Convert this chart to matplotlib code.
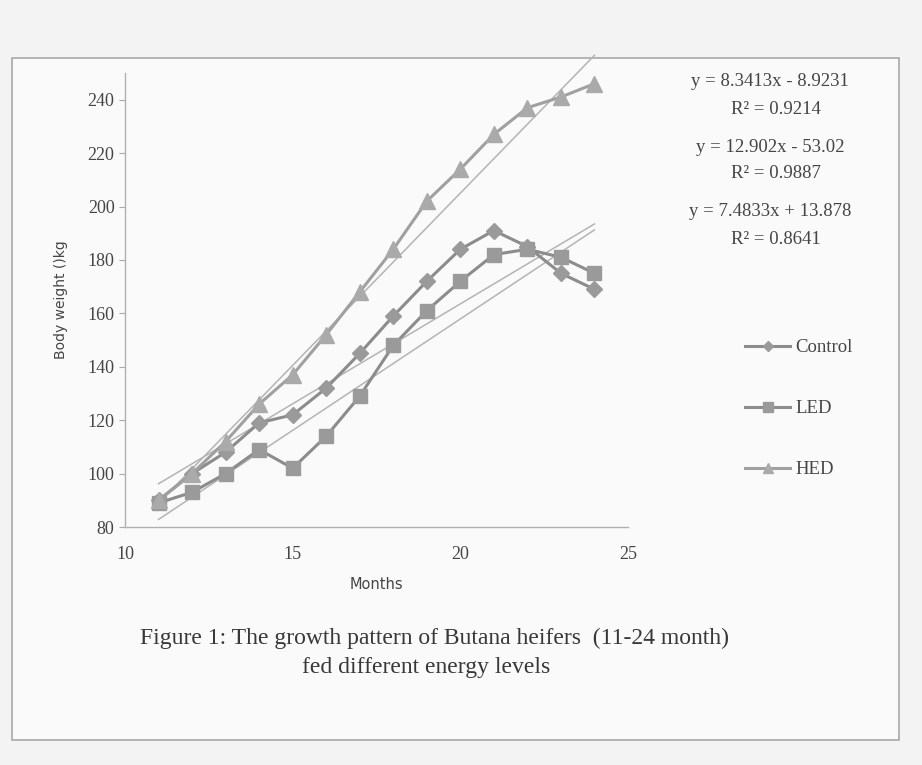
import matplotlib.pyplot as plt
from matplotlib.patches import Rectangle

# data (months 11-24, body weight kg)
months = [11, 12, 13, 14, 15, 16, 17, 18, 19, 20, 21, 22, 23, 24]
control = [90, 100, 108, 119, 122, 132, 145, 159, 172, 184, 191, 185, 175, 169]
led = [89, 93, 100, 109, 102, 114, 129, 148, 161, 172, 182, 184, 181, 175]
hed = [90, 100, 112, 126, 137, 152, 168, 184, 202, 214, 227, 237, 241, 246]

# linear trendlines printed on the chart (slope, intercept, R2)
trend_led = (8.3413, -8.9231, 0.9214)
trend_hed = (12.902, -53.02, 0.9887)
trend_control = (7.4833, 13.878, 0.8641)

x_ticks = [10, 15, 20, 25]
y_ticks = [80, 100, 120, 140, 160, 180, 200, 220, 240]

serif = "Liberation Serif"
txt = "#454545"
line_c = "#8c8c8c"
mark_c = "#9a9a9a"
trend_c = "#b4b4b4"

fig = plt.figure(figsize=(9.22, 7.65), dpi=100, facecolor="#f3f3f3")

# chart frame of the scanned page
fig.patches.append(Rectangle((12 / 922, 1 - 740 / 765), 887 / 922, 682 / 765,
                             transform=fig.transFigure, facecolor="#fafafa",
                             edgecolor="#a8a8a8", linewidth=1.2, zorder=-10))

ax = fig.add_axes([125 / 922, 1 - 527 / 765, 503 / 922, 454 / 765])
ax.set_facecolor("none")

# trendlines first so the series sit on top
for slope, icpt, _ in (trend_led, trend_hed, trend_control):
    ys = [slope * m + icpt for m in (months[0], months[-1])]
    ax.plot([months[0], months[-1]], ys, color=trend_c, lw=1.1, clip_on=False, zorder=1)

ax.plot(months, control, color=line_c, lw=2.2, marker="D", ms=8, mfc=mark_c, mec=mark_c,
        label="Control", zorder=3)
ax.plot(months, led, color=line_c, lw=2.2, marker="s", ms=10.5, mfc=mark_c, mec=mark_c,
        label="LED", zorder=3)
ax.plot(months, hed, color="#a0a0a0", lw=2.2, marker="^", ms=11, mfc="#aaaaaa", mec="#aaaaaa",
        label="HED", zorder=3)

ax.set_xlim(10, 25)
ax.set_ylim(80, 250)
ax.set_xticks(x_ticks)
ax.set_yticks(y_ticks)
ax.tick_params(axis="both", colors="#aaaaaa", labelcolor=txt, length=4, width=0.8)
ax.tick_params(axis="x", length=0, pad=14)
for lab in ax.get_xticklabels() + ax.get_yticklabels():
    lab.set_fontfamily(serif)
    lab.set_fontsize(13)
for s in ("top", "right"):
    ax.spines[s].set_visible(False)
for s in ("left", "bottom"):
    ax.spines[s].set_color("#b0b0b0")
    ax.spines[s].set_linewidth(1)

ax.set_xlabel("Months", fontsize=10.5, color=txt, labelpad=10)
ax.set_ylabel("Body weight ()kg", fontsize=10, color=txt, labelpad=14)

# trendline equations, as placed on the chart
eqs = [trend_led, trend_hed, trend_control]
eq_y = [82, 147, 212]
for (slope, icpt, r2), yp in zip(eqs, eq_y):
    sign = "-" if icpt < 0 else "+"
    fig.text(770 / 922, 1 - yp / 765, f"y = {slope}x {sign} {abs(icpt)}", ha="center",
             va="center", family=serif, fontsize=13.5, color=txt)
    fig.text(776 / 922, 1 - (yp + 27) / 765, f"R² = {r2:.4f}", ha="center",
             va="center", family=serif, fontsize=13.5, color=txt)

fig.legend(loc="upper left", bbox_to_anchor=(745 / 922, 1 - 339 / 765), frameon=False,
           prop={"family": serif, "size": 13.5}, labelcolor=txt, handlelength=2.4,
           handletextpad=0.3, labelspacing=2.35, borderpad=0, borderaxespad=0,
           markerscale=0.7)

fig.text(434 / 922, 1 - 638 / 765, "Figure 1: The growth pattern of Butana heifers  (11-24 month)",
         ha="center", va="center", family=serif, fontsize=17, color="#383838")
fig.text(426 / 922, 1 - 667 / 765, "fed different energy levels",
         ha="center", va="center", family=serif, fontsize=17, color="#383838")

fig.savefig("out.png", dpi=100, facecolor=fig.get_facecolor())
